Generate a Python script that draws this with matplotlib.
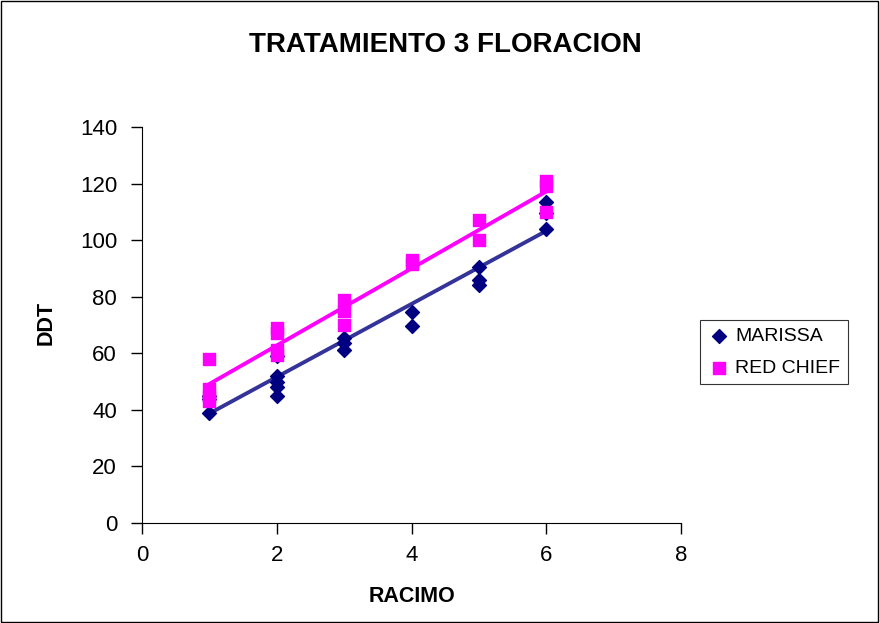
import numpy as np
import matplotlib.pyplot as plt
from matplotlib.patches import Rectangle

plt.rcParams['font.family'] = ['Liberation Sans', 'DejaVu Sans']

## datos por racimo (DDT = dias despues del trasplante)
marissa_x = [1, 1, 1, 2, 2, 2, 2, 2, 3, 3, 3, 4, 4, 5, 5, 5, 6, 6, 6]
marissa_y = [39, 44, 45, 59, 52, 50, 48, 45, 65.5, 63.5, 61, 74.5, 69.5, 90.5, 86, 84, 113.5, 109.5, 104]

redchief_x = [1, 1, 1, 1, 2, 2, 2, 2, 3, 3, 3, 4, 4, 5, 5, 6, 6, 6]
redchief_y = [58, 47.5, 45, 43, 69, 67, 61, 59.5, 79, 75, 70, 93, 91.5, 107, 100, 121, 119, 110]

W, H = 880, 623
fig = plt.figure(figsize=(W/100, H/100), dpi=100)
fig.patches.append(Rectangle((0.001, 0.001), 0.997, 0.997, transform=fig.transFigure,
                             fill=False, edgecolor='black', linewidth=1))
ax = fig.add_axes([142/W, 1 - 523/H, (681-142)/W, (523-127)/H])

## puntos y linea de tendencia lineal de cada variedad
ax.scatter(marissa_x, marissa_y, marker='D', s=50, color='#000080', zorder=3, label='MARISSA')
ax.scatter(redchief_x, redchief_y, marker='s', s=65, color='#FF00FF', zorder=3, label='RED CHIEF')

xs = np.array([1, 6])
m1, b1 = np.polyfit(marissa_x, marissa_y, 1)
ax.plot(xs, m1*xs + b1, color='#333399', linewidth=2.8, zorder=2)
m2, b2 = np.polyfit(redchief_x, redchief_y, 1)
ax.plot(xs, m2*xs + b2, color='#FF00FF', linewidth=2.8, zorder=2)

ax.set_xlim(0, 8)
ax.set_ylim(0, 140)
ax.set_xticks([0, 2, 4, 6, 8])
ax.set_yticks(range(0, 141, 20))
ax.tick_params(labelsize=16, direction='out', length=8, width=1)
ax.tick_params(axis='y', pad=10)
ax.tick_params(axis='x', pad=8)
for s in ['top', 'right']:
    ax.spines[s].set_visible(False)

fig.text(412/W, 1 - 597/H, 'RACIMO', fontsize=15.5, fontweight='bold', ha='center', va='center')
fig.text(46/W, 1 - 323/H, 'DDT', fontsize=15.5, fontweight='bold', ha='center', va='center',
         rotation=90)
fig.text(445/W, 1 - 45/H, 'TRATAMIENTO 3 FLORACION', fontsize=20, fontweight='bold',
         ha='center', va='center')

leg = fig.legend(loc='upper left', bbox_to_anchor=(700/W, 1 - 320/H), fontsize=14,
                 frameon=True, fancybox=False, edgecolor='black', handletextpad=0.2,
                 borderpad=0.4, labelspacing=0.7, borderaxespad=0, handlelength=1.2)
leg.get_frame().set_linewidth(0.8)

fig.savefig('out.png', dpi=100)
